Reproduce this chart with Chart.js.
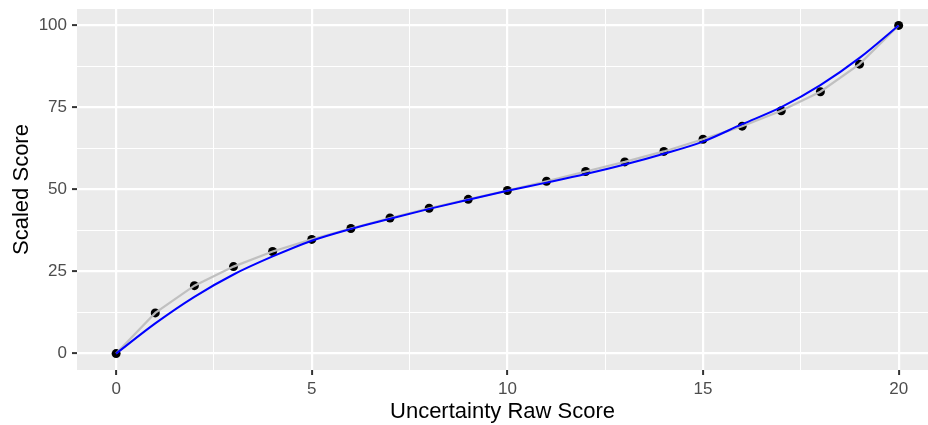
<!DOCTYPE html>
<html>
<head>
<meta charset="utf-8">
<script src="https://cdn.jsdelivr.net/npm/chart.js@4"></script>
<style>
html,body{margin:0;padding:0;background:#fff;overflow:hidden;}
#wrap{width:928px;height:425px;}
</style>
</head>
<body>
<div id="wrap"><canvas id="c" width="928" height="425"></canvas></div>
<script>
const rawScores = [0,1,2,3,4,5,6,7,8,9,10,11,12,13,14,15,16,17,18,19,20];
const scaledScores = [0,12.4,20.7,26.5,31.1,34.8,38.1,41.3,44.3,47.0,49.7,52.5,55.5,58.4,61.6,65.3,69.3,74.0,79.8,88.2,100];
const fittedScores = [0,9.2,17.3,24.1,29.6,34.4,38.0,41.1,44.1,46.9,49.6,52.1,54.7,57.6,60.9,64.6,69.9,75.1,81.8,90.1,100];
const xTicks = [0,2.5,5,7.5,10,12.5,15,17.5,20];
const yTicks = [0,12.5,25,37.5,50,62.5,75,87.5,100];
const xMajor = [0,5,10,15,20];
const yMajor = [0,25,50,75,100];

const pts = (ys) => rawScores.map((x,i)=>({x:x,y:ys[i]}));

const panelBg = {
  id:'panelBg',
  beforeDraw(chart){
    const a = chart.chartArea, ctx = chart.ctx;
    ctx.save();
    ctx.fillStyle = '#EBEBEB';
    ctx.fillRect(a.left, a.top, a.right-a.left, a.bottom-a.top);
    ctx.restore();
  }
};

function isMajor(list, v){ return list.some(m=>Math.abs(m-v)<1e-9); }
function zeroPad(s){ s.paddingTop = 0; s.paddingBottom = 0; s.paddingLeft = 0; s.paddingRight = 0; }

new Chart(document.getElementById('c'), {
  type:'line',
  data:{
    datasets:[
      {label:'points', data:pts(scaledScores), showLine:false, pointRadius:4.5, pointBackgroundColor:'#000', pointBorderColor:'#000', pointBorderWidth:0, order:3},
      {label:'raw', data:pts(scaledScores), borderColor:'rgba(190,190,190,0.95)', borderWidth:2.2, pointRadius:0, tension:0, order:2},
      {label:'fit', data:pts(fittedScores), borderColor:'#0000FF', borderWidth:2, pointRadius:0, cubicInterpolationMode:'monotone', order:1}
    ]
  },
  options:{
    responsive:false,
    devicePixelRatio:1,
    animation:false,
    layout:{autoPadding:false, padding:{top:9,right:0,left:0,bottom:0}},
    plugins:{legend:{display:false}, tooltip:{enabled:false}},
    scales:{
      x:{
        type:'linear', min:-1, max:20.75,
        afterBuildTicks(s){ s.ticks = xTicks.map(v=>({value:v})); },
        afterFit(s){ s.height = 55; zeroPad(s); },
        border:{display:false},
        grid:{
          color:'#FFFFFF',
          lineWidth:(c)=> isMajor(xMajor, c.tick ? c.tick.value : 0) ? 2.2 : 1,
          tickColor:(c)=> isMajor(xMajor, c.tick ? c.tick.value : 0) ? '#333333' : 'rgba(0,0,0,0)',
          tickLength:5, tickWidth:2
        },
        ticks:{
          autoSkip:false, maxRotation:0, padding:4,
          color:'#4D4D4D',
          font:{family:'"Liberation Sans", Arial, sans-serif', size:17},
          callback:(v)=> isMajor(xMajor, v) ? String(v) : ''
        },
        title:{display:true, text:'Uncertainty Raw Score', color:'#000',
          font:{family:'"Liberation Sans", Arial, sans-serif', size:22}, padding:{top:0,bottom:0}}
      },
      y:{
        type:'linear', min:-5, max:105,
        afterBuildTicks(s){ s.ticks = yTicks.map(v=>({value:v})); },
        afterFit(s){ s.width = 77; zeroPad(s); },
        border:{display:false},
        grid:{
          color:'#FFFFFF',
          lineWidth:(c)=> isMajor(yMajor, c.tick ? c.tick.value : 0) ? 2.2 : 1,
          tickColor:(c)=> isMajor(yMajor, c.tick ? c.tick.value : 0) ? '#333333' : 'rgba(0,0,0,0)',
          tickLength:5, tickWidth:2
        },
        ticks:{
          autoSkip:false, padding:5,
          color:'#4D4D4D',
          font:{family:'"Liberation Sans", Arial, sans-serif', size:17},
          callback:(v)=> isMajor(yMajor, v) ? String(v) : ''
        },
        title:{display:true, text:'Scaled Score', color:'#000',
          font:{family:'"Liberation Sans", Arial, sans-serif', size:22}, padding:{top:9,bottom:0}}
      }
    }
  },
  plugins:[panelBg]
});
</script>
</body>
</html>
